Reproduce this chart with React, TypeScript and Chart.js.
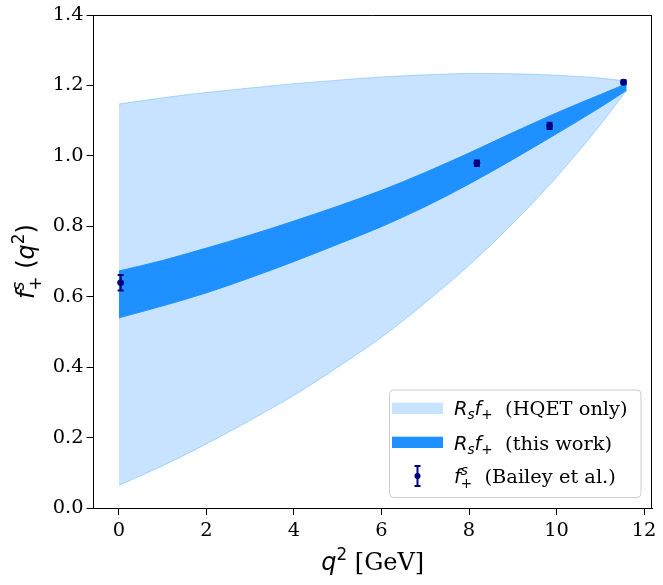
import React, { useEffect, useRef } from "react";
import { Chart, registerables } from "chart.js";

Chart.register(...registerables);

// ---- data ----
const q2Grid = [0, 1, 2, 3, 4, 5, 6, 7, 8, 9, 10, 11, 11.6];
const hqetUpper = [1.147, 1.165, 1.18, 1.193, 1.205, 1.215, 1.224, 1.23, 1.234, 1.233, 1.229, 1.221, 1.212];
const hqetLower = [0.064, 0.12, 0.182, 0.249, 0.32, 0.4, 0.485, 0.583, 0.689, 0.808, 0.94, 1.088, 1.186];
const workUpper = [0.673, 0.703, 0.738, 0.775, 0.815, 0.857, 0.902, 0.953, 1.008, 1.066, 1.122, 1.174, 1.205];
const workLower = [0.54, 0.574, 0.611, 0.654, 0.7, 0.749, 0.799, 0.856, 0.92, 0.99, 1.063, 1.138, 1.186];

const baileyQ2 = [0.04, 8.18, 9.84, 11.53];
const baileyF = [0.64, 0.979, 1.085, 1.209];
const baileyErr = [0.022, 0.008, 0.009, 0.006];

const xTicks = [0, 2, 4, 6, 8, 10, 12];
const yTicks = [0, 0.2, 0.4, 0.6, 0.8, 1.0, 1.2, 1.4];

const LIGHT = "rgba(30,144,255,0.25)";
const LIGHT_EDGE = "rgba(30,144,255,0.3)";
const DODGER = "#1e90ff";
const NAVY = "#000080";
const FS = 19.4;

type Plain = { t: string; f: "serif" | "it" | "rm"; s?: number; dy?: number };
type Seg = Plain | { sup: Plain; sub: Plain };

function fontOf(p: Plain, size: number) {
  const px = size * (p.s ?? 1);
  if (p.f === "serif") return `${px}px "DejaVu Serif"`;
  if (p.f === "it") return `italic ${px}px "DejaVu Sans"`;
  return `${px}px "DejaVu Sans"`;
}

function segWidth(ctx: CanvasRenderingContext2D, seg: Seg, size: number) {
  if ("sup" in seg) {
    ctx.font = fontOf(seg.sup, size);
    const a = ctx.measureText(seg.sup.t).width;
    ctx.font = fontOf(seg.sub, size);
    const b = ctx.measureText(seg.sub.t).width;
    return Math.max(a, b);
  }
  ctx.font = fontOf(seg, size);
  return ctx.measureText(seg.t).width;
}

function drawRich(ctx: CanvasRenderingContext2D, segs: Seg[], x: number, y: number, size: number, align: "left" | "center") {
  ctx.save();
  ctx.textBaseline = "alphabetic";
  ctx.textAlign = "left";
  ctx.fillStyle = "#000";
  const widths = segs.map((s) => segWidth(ctx, s, size));
  const total = widths.reduce((a, b) => a + b, 0);
  let cx = align === "center" ? x - total / 2 : x;
  segs.forEach((seg, i) => {
    const parts: Plain[] = "sup" in seg ? [seg.sup, seg.sub] : [seg];
    parts.forEach((p) => {
      ctx.font = fontOf(p, size);
      ctx.fillText(p.t, cx, y + (p.dy ?? 0) * size);
    });
    cx += widths[i];
  });
  ctx.restore();
}

const SUP = -0.42;
const SUB = 0.22;

const yTitle: Seg[] = [
  { t: "f", f: "it" },
  { sup: { t: "s", f: "it", s: 0.7, dy: -0.4 }, sub: { t: "+", f: "rm", s: 0.7, dy: 0.28 } },
  { t: " (", f: "rm" },
  { t: "q", f: "it" },
  { t: "2", f: "rm", s: 0.7, dy: SUP },
  { t: ")", f: "rm" },
];
const xTitle: Seg[] = [
  { t: "q", f: "it" },
  { t: "2", f: "rm", s: 0.7, dy: SUP },
  { t: " [GeV]", f: "serif" },
];
const legendLabels: Seg[][] = [
  [
    { t: "R", f: "it" },
    { t: "s", f: "it", s: 0.7, dy: SUB },
    { t: "f", f: "it" },
    { t: "+", f: "rm", s: 0.7, dy: SUB },
    { t: " ", f: "rm" },
    { t: " (HQET only)", f: "serif" },
  ],
  [
    { t: "R", f: "it" },
    { t: "s", f: "it", s: 0.7, dy: SUB },
    { t: "f", f: "it" },
    { t: "+", f: "rm", s: 0.7, dy: SUB },
    { t: " ", f: "rm" },
    { t: " (this work)", f: "serif" },
  ],
  [
    { t: "f", f: "it" },
    { sup: { t: "s", f: "it", s: 0.7, dy: -0.4 }, sub: { t: "+", f: "rm", s: 0.7, dy: 0.28 } },
    { t: " ", f: "rm" },
    { t: " (Bailey et al.)", f: "serif" },
  ],
];

const decorPlugin = {
  id: "decor",
  afterDatasetsDraw(chart: any) {
    const ctx: CanvasRenderingContext2D = chart.ctx;
    const xs = chart.scales.x;
    const ys = chart.scales.y;
    // error bars
    ctx.save();
    ctx.strokeStyle = NAVY;
    ctx.lineWidth = 2;
    baileyQ2.forEach((q, i) => {
      const px = xs.getPixelForValue(q);
      const top = ys.getPixelForValue(baileyF[i] + baileyErr[i]);
      const bot = ys.getPixelForValue(baileyF[i] - baileyErr[i]);
      ctx.beginPath();
      ctx.moveTo(px, top);
      ctx.lineTo(px, bot);
      ctx.moveTo(px - 3, top);
      ctx.lineTo(px + 3, top);
      ctx.moveTo(px - 3, bot);
      ctx.lineTo(px + 3, bot);
      ctx.stroke();
    });
    ctx.restore();
    // frame (top/right spines)
    const a = chart.chartArea;
    ctx.save();
    ctx.strokeStyle = "#000";
    ctx.lineWidth = 1;
    ctx.beginPath();
    ctx.moveTo(a.left, a.top + 0.5);
    ctx.lineTo(a.right, a.top + 0.5);
    ctx.moveTo(a.right - 0.5, a.top);
    ctx.lineTo(a.right - 0.5, a.bottom);
    ctx.stroke();
    ctx.restore();
  },
  afterDraw(chart: any) {
    const ctx: CanvasRenderingContext2D = chart.ctx;
    const a = chart.chartArea;
    // axis titles
    drawRich(ctx, xTitle, (a.left + a.right) / 2, 570, 24, "center");
    ctx.save();
    ctx.translate(34, (a.top + a.bottom) / 2);
    ctx.rotate(-Math.PI / 2);
    drawRich(ctx, yTitle, 0, 0, 24, "center");
    ctx.restore();
    // legend
    const lx = 389.5, ly = 390, lw = 251.5, lh = 107.5;
    ctx.save();
    ctx.beginPath();
    (ctx as any).roundRect(lx, ly, lw, lh, 4);
    ctx.fillStyle = "rgba(255,255,255,0.8)";
    ctx.fill();
    ctx.strokeStyle = "#cccccc";
    ctx.lineWidth = 1;
    ctx.stroke();
    ctx.fillStyle = LIGHT;
    ctx.fillRect(392, 402.7, 51, 11.3);
    ctx.fillStyle = DODGER;
    ctx.fillRect(392, 436.7, 51, 11.3);
    const ex = 417.5, ey = 476;
    ctx.strokeStyle = NAVY;
    ctx.lineWidth = 2;
    ctx.beginPath();
    ctx.moveTo(ex, ey - 10);
    ctx.lineTo(ex, ey + 10);
    ctx.moveTo(ex - 3, ey - 10);
    ctx.lineTo(ex + 3, ey - 10);
    ctx.moveTo(ex - 3, ey + 10);
    ctx.lineTo(ex + 3, ey + 10);
    ctx.stroke();
    ctx.fillStyle = NAVY;
    ctx.beginPath();
    ctx.arc(ex, ey, 3, 0, Math.PI * 2);
    ctx.fill();
    ctx.restore();
    drawRich(ctx, legendLabels[0], 454, 415, FS, "left");
    drawRich(ctx, legendLabels[1], 454, 449.5, FS, "left");
    drawRich(ctx, legendLabels[2], 454, 482.5, FS, "left");
  },
};

export default function App() {
  const ref = useRef<HTMLCanvasElement>(null);
  useEffect(() => {
    document.body.style.margin = "0";
    document.body.style.overflow = "hidden";
    const pts = (ys: number[]) => q2Grid.map((x, i) => ({ x, y: ys[i] }));
    const band = { pointRadius: 0, cubicInterpolationMode: "monotone" as const };
    const chart = new Chart(ref.current!, {
      type: "line",
      data: {
        datasets: [
          { ...band, data: pts(hqetLower), borderColor: LIGHT_EDGE, borderWidth: 1, fill: false, order: 4 },
          { ...band, data: pts(hqetUpper), borderColor: LIGHT_EDGE, borderWidth: 1, fill: "-1", backgroundColor: LIGHT, order: 3 },
          { ...band, data: pts(workLower), borderColor: DODGER, borderWidth: 1, fill: false, order: 2 },
          { ...band, data: pts(workUpper), borderColor: DODGER, borderWidth: 1, fill: "-1", backgroundColor: DODGER, order: 1 },
          {
            data: baileyQ2.map((x, i) => ({ x, y: baileyF[i] })),
            showLine: false,
            pointRadius: 3,
            pointBackgroundColor: NAVY,
            pointBorderColor: NAVY,
            borderColor: NAVY,
            order: 0,
          },
        ],
      },
      options: {
        animation: false,
        responsive: false,
        devicePixelRatio: 1,
        layout: { padding: { top: 15, right: 11, left: 0, bottom: 0 } },
        plugins: { legend: { display: false }, tooltip: { enabled: false } },
        scales: {
          x: {
            type: "linear",
            min: -0.58,
            max: 12.18,
            afterFit: (s: any) => { s.height = 77; },
            afterBuildTicks: (s: any) => { s.ticks = xTicks.map((v) => ({ value: v })); },
            ticks: {
              font: { family: "DejaVu Serif", size: FS },
              color: "#000",
              padding: 4,
              maxRotation: 0,
              callback: (v: any) => String(v),
            },
            grid: { drawOnChartArea: false, tickLength: 7, tickColor: "#000", tickWidth: 1 },
            border: { color: "#000", width: 1 },
          },
          y: {
            type: "linear",
            min: 0,
            max: 1.4,
            afterFit: (s: any) => { s.width = 93.5; },
            afterBuildTicks: (s: any) => { s.ticks = yTicks.map((v) => ({ value: v })); },
            ticks: {
              font: { family: "DejaVu Serif", size: FS },
              color: "#000",
              padding: 3,
              callback: (v: any) => Number(v).toFixed(1),
            },
            grid: { drawOnChartArea: false, tickLength: 7, tickColor: "#000", tickWidth: 1 },
            border: { color: "#000", width: 1 },
          },
        },
      },
      plugins: [decorPlugin],
    });
    return () => chart.destroy();
  }, []);
  return (
    <div style={{ width: 663, height: 585, background: "#fff" }}>
      <canvas ref={ref} width={663} height={585} style={{ display: "block" }} />
    </div>
  );
}
